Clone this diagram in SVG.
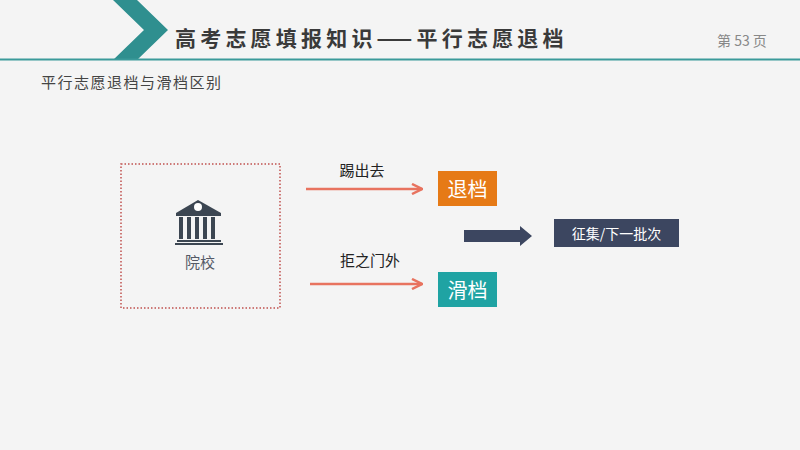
<svg xmlns="http://www.w3.org/2000/svg" width="800" height="450" viewBox="0 0 800 450">
<style>
text{font-family:"Noto Sans CJK SC","Noto Sans",sans-serif}
.ar{stroke:#e8735f;stroke-width:2.5;fill:none}
</style>
<defs>
<marker id="ah" viewBox="0 0 10 10" refX="9" refY="5" markerWidth="5" markerHeight="5" orient="auto"><path d="M1,1 L9,5 L1,9" fill="none" stroke="#e8735f" stroke-width="2"/></marker>
</defs>
<rect width="800" height="450" fill="#f4f4f4"/>
<polygon points="113,0 137,0 168,30 137,60 113,60 144,30" fill="#2f8f8f"/>
<line x1="0" y1="59.5" x2="800" y2="59.5" stroke="#3a9a9a" stroke-width="2"/>
<text x="175" y="46" font-size="21" font-weight="bold" fill="#3a3a3a" letter-spacing="4.2">高考志愿填报知识——平行志愿退档</text>
<text x="717" y="46" font-size="14" fill="#888">第 53 页</text>
<text x="41" y="88" font-size="15" fill="#444" letter-spacing="1.5">平行志愿退档与滑档区别</text>
<g id="school">
<rect x="121" y="164" width="159" height="144" fill="none" stroke="#c0504d" stroke-width="1.5" stroke-dasharray="1.5,2"/>
<g fill="#3c4652">
<polygon points="176,213 221,213 198,200"/>
<rect x="176" y="213" width="45" height="3"/>
<rect x="179" y="217" width="4" height="22"/><rect x="187" y="217" width="4" height="22"/><rect x="195" y="217" width="4" height="22"/><rect x="203" y="217" width="4" height="22"/><rect x="211" y="217" width="4" height="22"/>
<rect x="177" y="240" width="44" height="2"/><rect x="175" y="243" width="48" height="2"/>
</g>
<circle cx="198" cy="207" r="4" fill="#fff"/>
<text x="200" y="268" font-size="15" fill="#555a66" text-anchor="middle">院校</text>
</g>
<g id="connectors">
<line class="ar" x1="306" y1="189" x2="422" y2="189" marker-end="url(#ah)"/>
<line class="ar" x1="310" y1="284" x2="422" y2="284" marker-end="url(#ah)"/>
<polygon points="464,230 520,230 520,226 532,236 520,246 520,242 464,242" fill="#3c4660"/>
</g>
<text x="362" y="176" font-size="15" fill="#222" text-anchor="middle">踢出去</text>
<text x="370" y="266" font-size="15" fill="#222" text-anchor="middle">拒之门外</text>
<g id="tuidang"><rect x="438" y="171" width="59" height="35" fill="#e67a16"/><text x="467.5" y="197" font-size="20" fill="#fff" text-anchor="middle">退档</text></g>
<g id="huadang"><rect x="438" y="272" width="59" height="35" fill="#1fa3a3"/><text x="467.5" y="298" font-size="20" fill="#fff" text-anchor="middle">滑档</text></g>
<g id="next"><rect x="554" y="219" width="125" height="28" fill="#3c4660"/><text x="616.5" y="239" font-size="14" fill="#fff" text-anchor="middle">征集/下一批次</text></g>
</svg>
